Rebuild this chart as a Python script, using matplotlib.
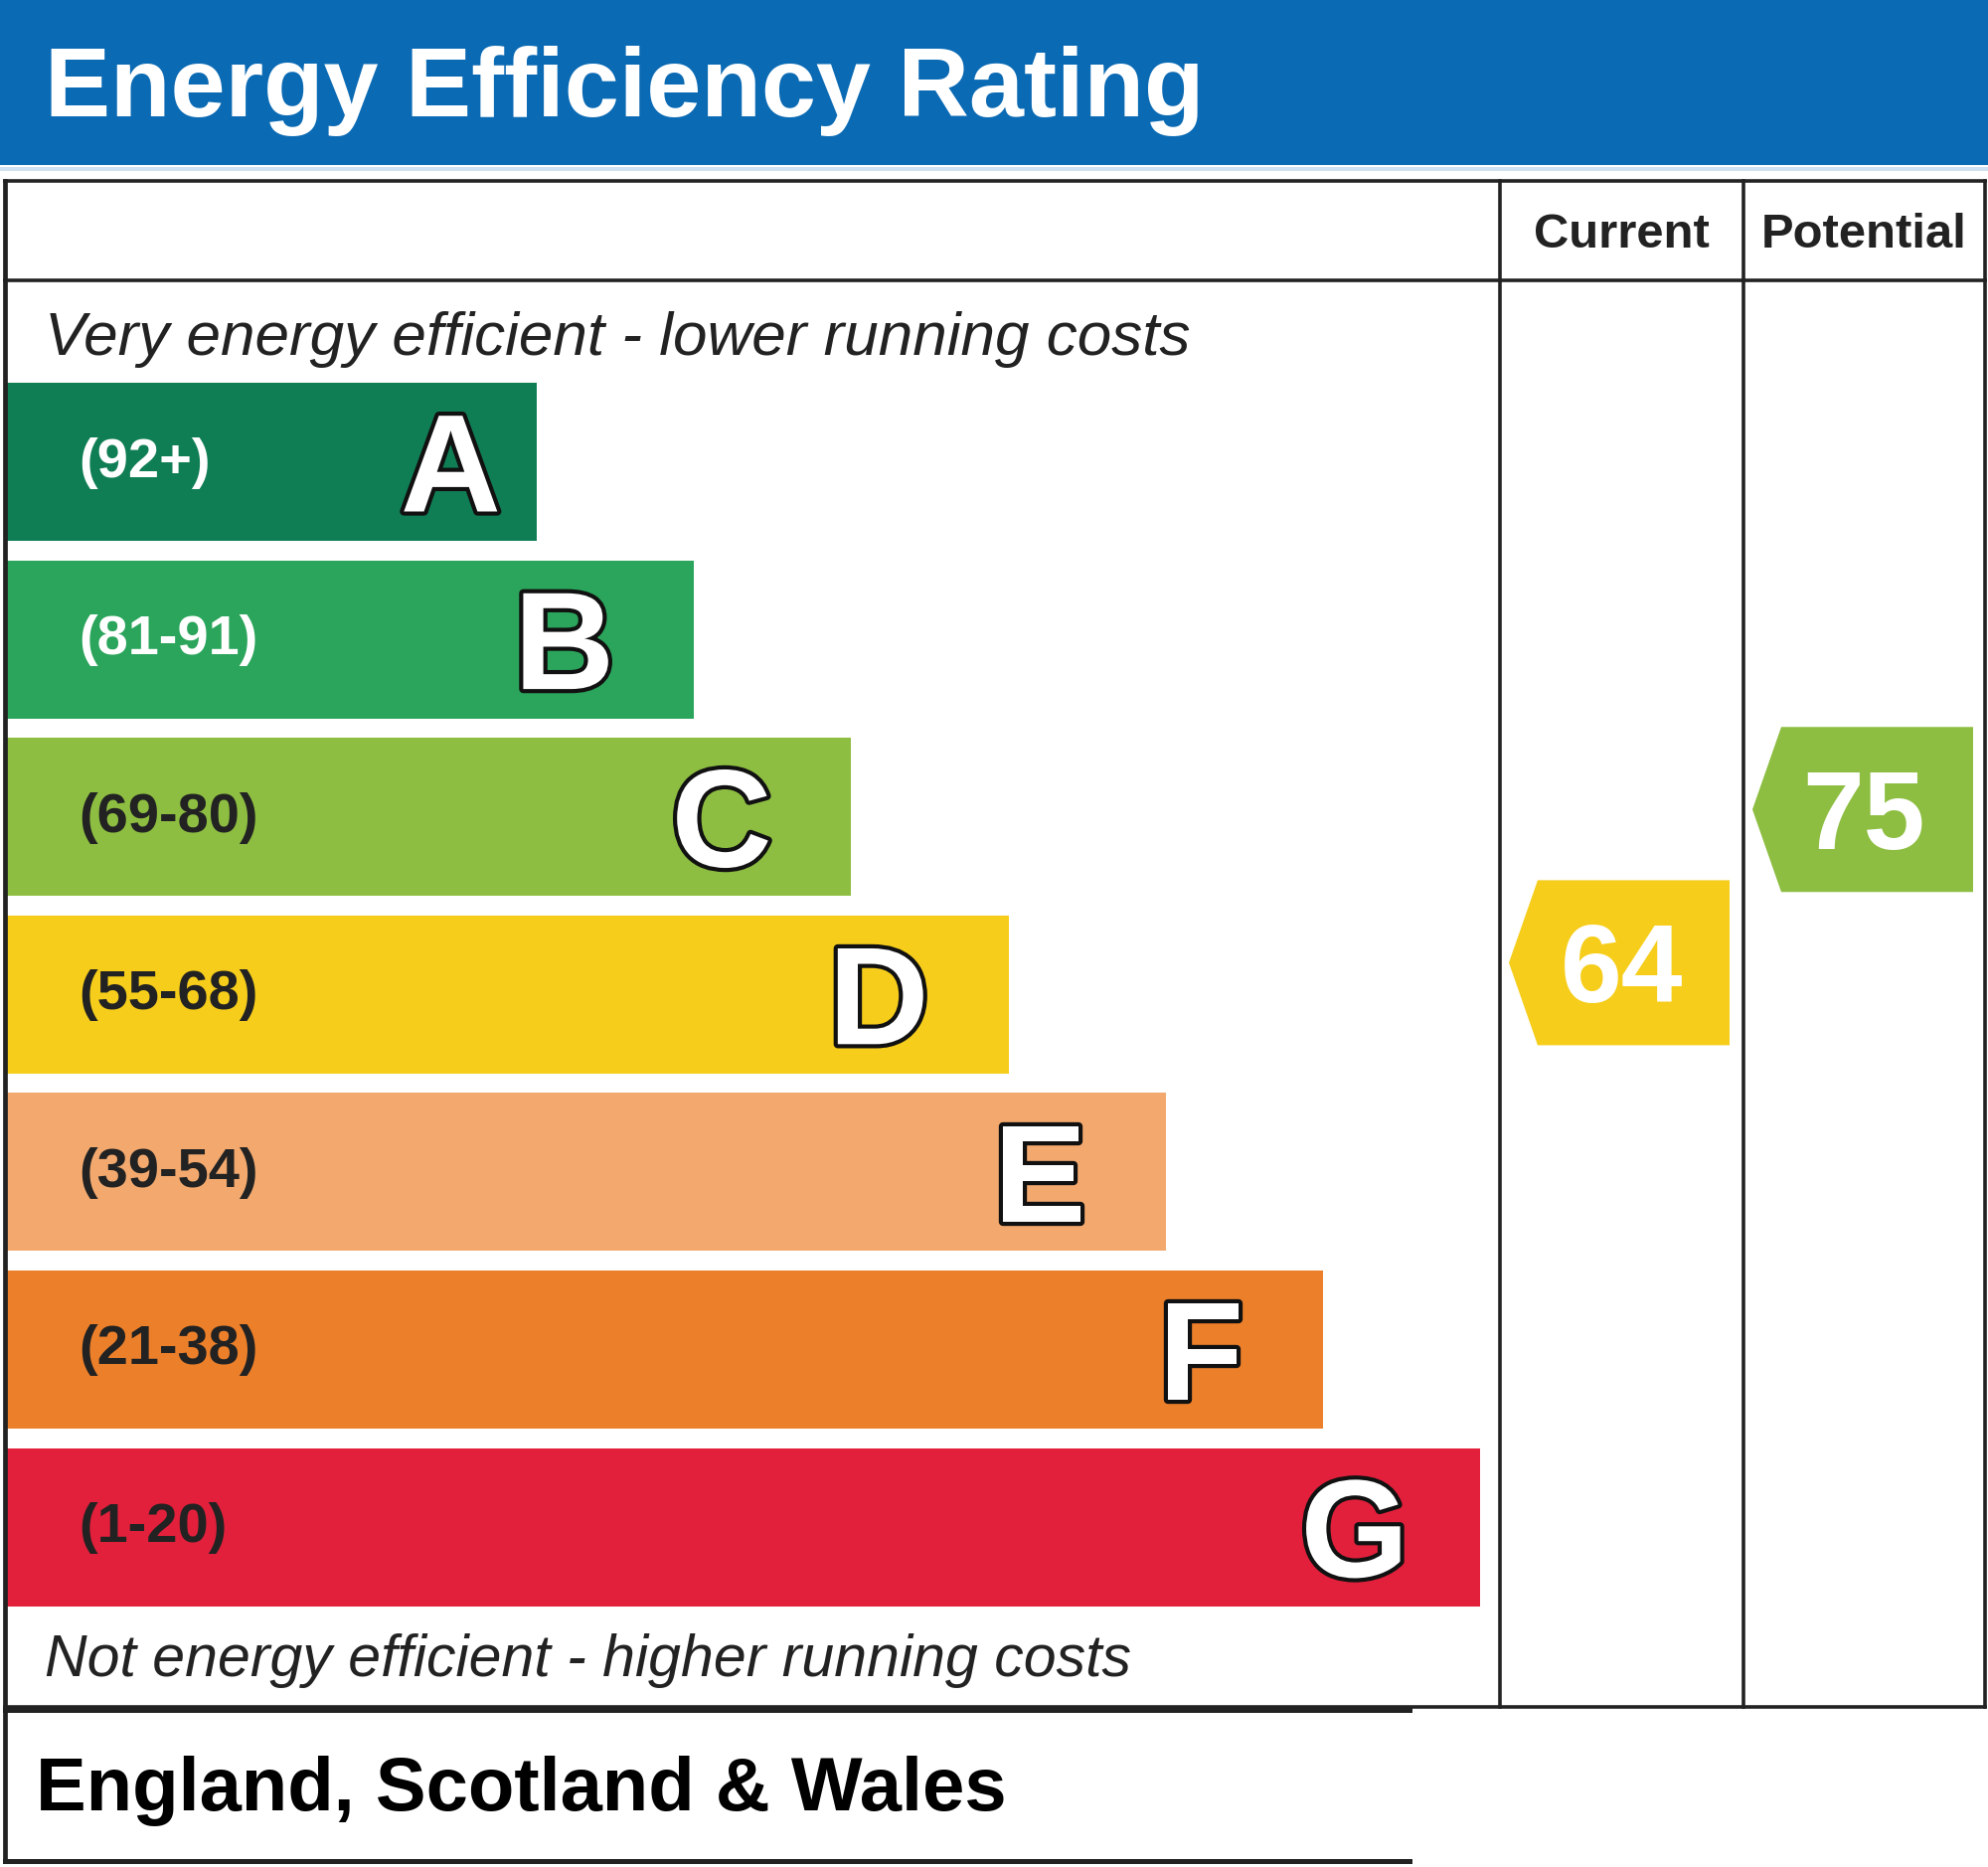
import matplotlib.pyplot as plt
from matplotlib.patches import Rectangle, Polygon
import matplotlib.patheffects as pe

# rating bands, best first
band_letters = ["A", "B", "C", "D", "E", "F", "G"]
band_ranges = ["(92+)", "(81-91)", "(69-80)", "(55-68)", "(39-54)", "(21-38)", "(1-20)"]
band_low = [92, 81, 69, 55, 39, 21, 1]
band_high = [100, 91, 80, 68, 54, 38, 20]
band_colors = ["#107e55", "#2aa55b", "#8dbe41", "#f6cd1a", "#f3a96e", "#ec7f2a", "#e2203b"]

current_rating = 64
potential_rating = 75

title = "Energy Efficiency Rating"
top_note = "Very energy efficient - lower running costs"
bottom_note = "Not energy efficient - higher running costs"
region = "England, Scotland & Wales"

W, H = 2000, 1878
FONT = "Liberation Sans"

# layout in pixels
BAR_LEFT = 6
BAR_TOP0 = 385
BAR_PITCH = 178.6
BAR_H = 159
BAR_RIGHT0 = 540
BAR_STEP = 158.2
COL1 = (1509, 1754)
COL2 = (1754, 1997)
TABLE_TOP, HEAD_LINE, TABLE_BOTTOM = 182, 282, 1717
# distance from bar end to the right edge of the big letter
LETTER_GAP = {"A": 36, "G": 72}


def pt(px):
    return px * 72 / 100


def band_index(value):
    for i, (lo, hi) in enumerate(zip(band_low, band_high)):
        if lo <= value <= hi:
            return i
    return len(band_low) - 1


def rating_y(value):
    i = band_index(value)
    lo, hi = band_low[i], band_high[i]
    mid = (lo + hi) / 2
    centre = BAR_TOP0 + i * BAR_PITCH + BAR_H / 2
    return centre - (value - mid) * BAR_PITCH / (hi - lo + 1)


fig = plt.figure(figsize=(W / 100, H / 100), dpi=100)
ax = fig.add_axes([0, 0, 1, 1])
ax.set_xlim(0, W)
ax.set_ylim(H, 0)
ax.axis("off")
fig.patch.set_facecolor("white")

# header
ax.add_patch(Rectangle((0, 0), W, 166, color="#0a6ab4", lw=0))
ax.add_patch(Rectangle((0, 168), W, 4, color="#cfe0f2", lw=0))
ax.text(45, 117, title, color="white", fontsize=pt(99), fontweight="bold",
        family=FONT, va="baseline", ha="left")

# table frame
lw = 2.6
ax.plot([5, 1997], [TABLE_TOP, TABLE_TOP], color="#222", lw=lw)
ax.plot([5, 1997], [HEAD_LINE, HEAD_LINE], color="#222", lw=lw)
ax.plot([5, 1997], [TABLE_BOTTOM, TABLE_BOTTOM], color="#222", lw=lw)
ax.plot([5, 5], [TABLE_TOP, 1872], color="#222", lw=lw + 0.8)
for x in (COL1[0], COL2[0], 1997):
    ax.plot([x, x], [TABLE_TOP, TABLE_BOTTOM], color="#222", lw=lw)

# lower region box
ax.plot([5, 1418], [1720, 1720], color="#222", lw=lw + 1)
ax.plot([5, 1418], [1872, 1872], color="#222", lw=lw + 1)

ax.text(sum(COL1) / 2, 249, "Current", fontsize=pt(49), fontweight="bold",
        family=FONT, color="#222", ha="center", va="baseline")
ax.text(sum(COL2) / 2, 249, "Potential", fontsize=pt(49), fontweight="bold",
        family=FONT, color="#222", ha="center", va="baseline")

ax.text(45, 357, top_note, fontsize=pt(62), style="italic", family=FONT,
        color="#222", ha="left", va="baseline")
ax.text(45, 1686, bottom_note, fontsize=pt(59), style="italic", family=FONT,
        color="#222", ha="left", va="baseline")

# bars
outline = [pe.Stroke(linewidth=6, foreground="#111"), pe.Normal()]
for i, (letter, label, color) in enumerate(zip(band_letters, band_ranges, band_colors)):
    top = BAR_TOP0 + i * BAR_PITCH
    right = BAR_RIGHT0 + i * BAR_STEP
    centre = top + BAR_H / 2
    ax.add_patch(Rectangle((BAR_LEFT, top), right - BAR_LEFT, BAR_H, color=color, lw=0))
    txt_color = "white" if i < 2 else "#222"
    ax.text(79, centre + 15, label, fontsize=pt(56), fontweight="bold",
            family=FONT, color=txt_color, ha="left", va="baseline")
    gap = LETTER_GAP.get(letter, 80)
    ax.text(right - gap, centre + 50, letter, fontsize=pt(140), fontweight="bold",
            family=FONT, color="white", ha="right", va="baseline",
            path_effects=outline)

# rating arrows
for value, (c0, c1) in ((current_rating, COL1), (potential_rating, COL2)):
    y = rating_y(value)
    color = band_colors[band_index(value)]
    tip = c0 + 9
    right = tip + 222
    half = 83
    pts = [(tip, y), (tip + 29, y - half), (right, y - half),
           (right, y + half), (tip + 29, y + half)]
    ax.add_patch(Polygon(pts, closed=True, color=color, lw=0))
    ax.text((c0 + c1) / 2, y + 40, str(value), fontsize=pt(111), fontweight="bold",
            family=FONT, color="white", ha="center", va="baseline")

ax.text(36, 1821, region, fontsize=pt(76), fontweight="bold", family=FONT,
        color="black", ha="left", va="baseline")

fig.savefig("out.png", dpi=100, facecolor="white")
